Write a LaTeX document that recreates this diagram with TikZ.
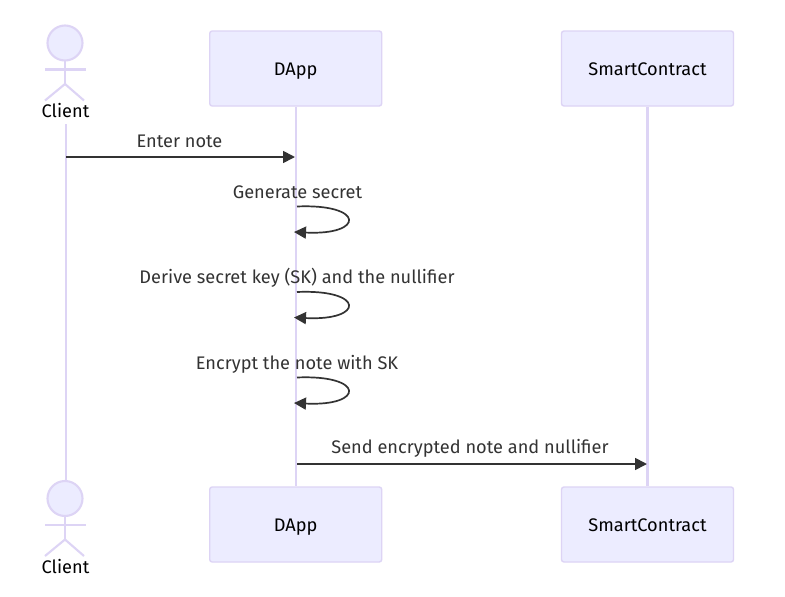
\documentclass[tikz,border=0pt]{standalone}
\usepackage{fontspec}
\setmainfont{Fira Sans}
\usetikzlibrary{arrows.meta,backgrounds}
\definecolor{mfill}{HTML}{ECECFF}
\definecolor{mline}{HTML}{DDD4F5}
\definecolor{mdark}{HTML}{333333}
\newcommand{\lblfont}{\fontsize{18.2}{21}\selectfont}
\tikzset{
 actorbox/.style={draw=mline,fill=mfill,line width=1.4pt,rounded corners=2.5pt,minimum width=172pt,minimum height=75pt,inner sep=0pt,font=\lblfont,text=black,text height=16pt,text depth=2pt},
 lifeline/.style={draw=mline,line width=2.1pt},
 stick/.style={draw=mline,line width=2.1pt},
 headc/.style={circle,draw=mline,fill=mfill,line width=2.1pt,minimum size=35pt,inner sep=0pt},
 actorlabel/.style={font=\lblfont,text=black,inner sep=0pt,anchor=base},
 msg/.style={draw=mdark,line width=1.7pt,-{Triangle[length=12pt,width=12pt]}},
 msglabel/.style={font=\lblfont,text=mdark,inner sep=0pt,anchor=base}
}
\begin{document}
\begin{tikzpicture}[x=1pt,y=-1pt]
\useasboundingbox (0,0) rectangle (785,597);
\node[actorlabel] (clientT) at (65.5,117.4) {Client};
\node[actorlabel] (clientB) at (65.5,573.4) {Client};
\node[headc] (headT) at (65,43) {};
\node[headc] (headB) at (65,498.5) {};
\coordinate (lifeCtop) at (65.7,124);
\coordinate (lifeCbot) at (65.7,481);
\node[actorbox] (dappT) at (295.7,68.5) {DApp};
\node[actorbox] (dappB) at (295.7,524.5) {DApp};
\node[actorbox] (scT) at (647.5,68.5) {SmartContract};
\node[actorbox] (scB) at (647.5,524.5) {SmartContract};
\begin{pgfonlayer}{background}
\fill[white] (0,0) rectangle (785,597);
\draw[lifeline] (lifeCtop) -- (lifeCbot);
\draw[lifeline] (dappT) -- (dappB);
\draw[lifeline] (scT) -- (scB);
\end{pgfonlayer}
\foreach \n/\y in {T/43,B/498.5}{
 \coordinate (neck\n) at (65,\y+18);
 \coordinate (hip\n) at (65,\y+41);
 \coordinate (armL\n) at (45,\y+26.5);
 \coordinate (armR\n) at (86,\y+26.5);
 \coordinate (legL\n) at (45,\y+57.5);
 \coordinate (legR\n) at (84,\y+57.5);
 \draw[stick] (neck\n) -- (hip\n);
 \draw[stick] (armL\n) -- (armR\n);
 \draw[stick] (legL\n) -- (hip\n) -- (legR\n);
}
\coordinate (m1a) at (66,157);
\coordinate (m1b) at (295,157);
\draw[msg] (m1a) -- (m1b);
\node[msglabel] (l1) at (179.5,147.4) {Enter note};
\foreach \i/\y in {2/206.5,3/292,4/377.5}{
 \coordinate (s\i) at (297,\y);
 \coordinate (e\i) at (294,\y+25.5);
 \draw[msg] (s\i) .. controls (365,\y-3) and (365,\y+29) .. (e\i);
}
\node[msglabel] (l2) at (297.5,198) {Generate secret};
\node[msglabel] (l3) at (297,283.5) {Derive secret key (SK) and the nullifier};
\node[msglabel] (l4) at (297,369) {Encrypt the note with SK};
\coordinate (m5a) at (297,464);
\coordinate (m5b) at (647,464);
\draw[msg] (m5a) -- (m5b);
\node[msglabel] (l5) at (470,453.9) {Send encrypted note and nullifier};
\end{tikzpicture}
\end{document}
